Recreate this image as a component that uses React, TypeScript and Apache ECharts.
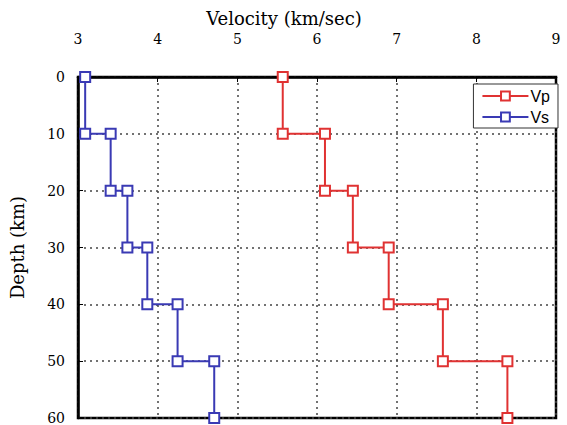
import React, { useEffect, useRef } from "react";
import * as echarts from "echarts";

const depthBounds = [0, 10, 20, 30, 40, 50, 60];
const vpValues = [5.57, 6.1, 6.45, 6.9, 7.58, 8.39];
const vsValues = [3.09, 3.41, 3.62, 3.87, 4.25, 4.71];
const xTicks = [3, 4, 5, 6, 7, 8, 9];
const yTicks = [0, 10, 20, 30, 40, 50, 60];

function stepPoints(vals: number[]) {
  const pts: number[][] = [];
  vals.forEach((v, i) => {
    pts.push([v, depthBounds[i]]);
    pts.push([v, depthBounds[i + 1]]);
  });
  return pts;
}

export default function App() {
  const ref = useRef<HTMLDivElement>(null);
  useEffect(() => {
    const chart = echarts.init(ref.current!, null, { renderer: "svg" });
    const serif = "DejaVu Serif";
    const red = "#e03232";
    const blue = "#3a3ab4";
    chart.setOption({
      animation: false,
      backgroundColor: "#ffffff",
      textStyle: { fontFamily: serif },
      grid: {
        left: 76,
        right: 11,
        top: 77,
        bottom: 5,
        show: true,
        borderColor: "#000",
        borderWidth: 2.5,
        backgroundColor: "transparent",
      },
      legend: {
        orient: "vertical",
        right: 9,
        top: 84,
        itemWidth: 46,
        itemHeight: 11,
        itemGap: 5,
        padding: [4, 8, 3, 8],
        backgroundColor: "#fff",
        borderColor: "#333",
        borderWidth: 1,
        textStyle: { fontFamily: "Liberation Sans", fontSize: 16, color: "#000", padding: [0, 0, 0, -3] },
        data: ["Vp", "Vs"],
      },
      xAxis: {
        type: "value",
        position: "top",
        min: xTicks[0],
        max: xTicks[xTicks.length - 1],
        interval: 1,
        name: "Velocity (km/sec)",
        nameLocation: "middle",
        nameGap: 46,
        nameTextStyle: { fontFamily: serif, fontSize: 18, color: "#000", padding: [0, 66, 0, 0] },
        axisLine: { show: true, lineStyle: { color: "#000", width: 2.5 } },
        axisTick: { show: true, inside: true, length: 5, lineStyle: { color: "#000" } },
        axisLabel: { fontFamily: serif, fontSize: 14, color: "#000", margin: 31 },
        splitLine: { show: true, lineStyle: { color: "#444", type: [2, 4], width: 1.5 } },
      },
      yAxis: {
        type: "value",
        inverse: true,
        min: yTicks[0],
        max: yTicks[yTicks.length - 1],
        interval: 10,
        name: "Depth (km)",
        nameLocation: "middle",
        nameGap: 52,
        nameRotate: 90,
        nameTextStyle: { fontFamily: serif, fontSize: 18, color: "#000" },
        axisLine: { show: true, lineStyle: { color: "#000", width: 2.5 } },
        axisTick: { show: true, inside: true, length: 5, lineStyle: { color: "#000" } },
        axisLabel: { fontFamily: serif, fontSize: 14, color: "#000", margin: 13 },
        splitLine: { show: true, lineStyle: { color: "#444", type: [2, 4], width: 1.5 } },
      },
      series: [
        {
          name: "Vp",
          type: "line",
          data: stepPoints(vpValues),
          symbol: "emptyRect",
          symbolSize: 10,
          showSymbol: true,
          showAllSymbol: true,
          color: red,
          lineStyle: { width: 2, color: red },
          itemStyle: { color: red, borderColor: red, borderWidth: 2 },
          clip: false,
          z: 5,
        },
        {
          name: "Vs",
          type: "line",
          data: stepPoints(vsValues),
          symbol: "emptyRect",
          symbolSize: 10,
          showSymbol: true,
          showAllSymbol: true,
          color: blue,
          lineStyle: { width: 2, color: blue },
          itemStyle: { color: blue, borderColor: blue, borderWidth: 2 },
          clip: false,
          z: 5,
        },
      ],
    });
    return () => chart.dispose();
  }, []);
  return <div ref={ref} style={{ width: 567, height: 425, position: "absolute", left: 0, top: 0 }} />;
}
